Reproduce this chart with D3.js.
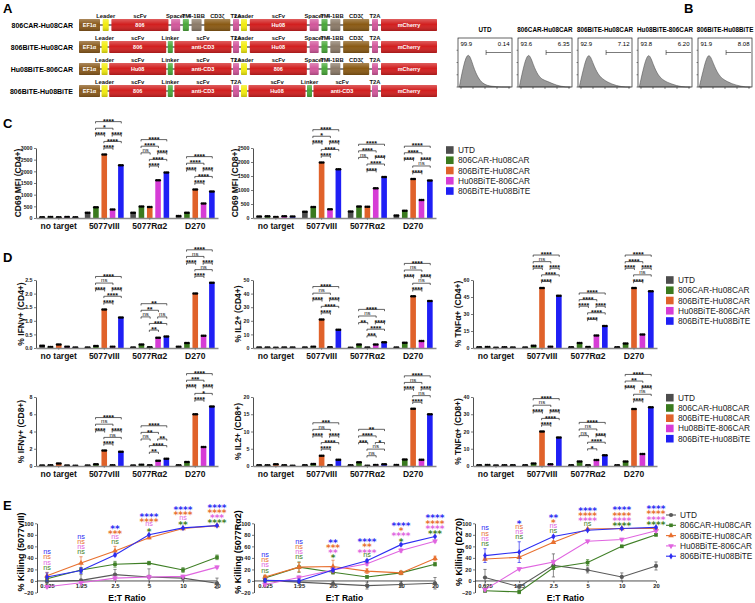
<!DOCTYPE html>
<html><head><meta charset="utf-8">
<script src="https://cdn.jsdelivr.net/npm/d3@7"></script>
<style>
body{margin:0;background:#fff}
svg{font-family:"Liberation Sans",Arial,sans-serif}
</style></head><body>
<svg id="fig" width="755" height="603"></svg>
<script>
// ---------------- DATA ----------------
const seriesNames = ["UTD","806CAR-Hu08CAR","806BiTE-Hu08CAR","Hu08BiTE-806CAR","806BiTE-Hu08BiTE"];
const barColors  = ["#4d4d4d","#3a7a1e","#e0622a","#d63cd6","#1f1ff5"];
const lineColors = ["#595959","#3f7f26","#e8702f","#e065e0","#2d2df2"];
const categories = ["no target","5077vIII","5077R\u03b12","D270"];

// Panel A constructs
const constructNames = ["806CAR-Hu08CAR","806BiTE-Hu08CAR","Hu08BiTE-806CAR","806BiTE-Hu08BiTE"];
const cassette1 = [
  [["EF1a","EF1\u03b1",""],["Leader","","Leader"],["scFv","806","scFv"],["Spacer","","Spacer"],["TM","","TM"],["BB","","4-1BB"],["CD3z","","CD3\u03b6"],["T2A","","T2A"]],
  [["EF1a","EF1\u03b1",""],["Leader","","Leader"],["scFv","806","scFv"],["Linker","","Linker"],["scFv","anti-CD3","scFv"],["T2A","","T2A"]],
  [["EF1a","EF1\u03b1",""],["Leader","","Leader"],["scFv","Hu08","scFv"],["Linker","","Linker"],["scFv","anti-CD3","scFv"],["T2A","","T2A"]],
  [["EF1a","EF1\u03b1",""],["Leader","","Leader"],["scFv","806","scFv"],["Linker","","Linker"],["scFv","anti-CD3","scFv"],["T2A","","T2A"]]
];
const cassette2 = [
  [["Leader","","Leader"],["scFv","Hu08","scFv"],["Spacer","","Spacer"],["TM","","TM"],["BB","","4-1BB"],["CD3z","","CD3\u03b6"],["T2A","","T2A"]],
  [["Leader","","Leader"],["scFv","Hu08","scFv"],["Spacer","","Spacer"],["TM","","TM"],["BB","","4-1BB"],["CD3z","","CD3\u03b6"],["T2A","","T2A"]],
  [["Leader","","Leader"],["scFv","806","scFv"],["Spacer","","Spacer"],["TM","","TM"],["BB","","4-1BB"],["CD3z","","CD3\u03b6"],["T2A","","T2A"]],
  [["Leader","",""],["scFv","Hu08","scFv"],["Linker","","Linker"],["scFv","anti-CD3","scFv"],["T2A","","T2A"]]
];
const reporter = ["mCherry","mCherry"];

// Panel B
const flowSamples = ["UTD","806CAR-Hu08CAR","806BiTE-Hu08CAR","Hu08BiTE-806CAR","806BiTE-Hu08BiTE"];
const flowNeg = ["99.9","93.6","92.9","93.8","91.9"];
const flowPos = ["0.14","6.35","7.12","6.20","8.08"];
const histUTD  = [3,70,100,55,25,10,4,2,1,0,0,0];
const histCC   = [3,65,100,60,32,20,16,10,5,2,0,0];
const histBC   = [3,60,100,62,35,22,14,8,4,1,0,0];
const histHuBC = [3,62,100,60,33,20,13,8,4,1,0,0];
const histBB   = [3,58,100,64,36,22,15,9,5,2,0,0];

// Panel C  (rows = series, cols = categories)
const cd69CD4 = [[35,230,220,90],[45,460,490,220],[30,2720,470,1220],[45,360,1620,620],[30,2260,1950,1140]];
const cd69CD8 = [[50,220,230,90],[60,390,410,260],[40,1980,400,1390],[60,310,1060,640],[50,1740,1460,1340]];
const cd69CD4Ticks = [0,500,1000,1500,2000,2500,3000];
const cd69CD8Ticks = [0,500,1000,1500,2000,2500];
// significance order per group: [CAR-vs-BiTE/BiTE, CAR-vs-Hu08BiTE, CAR-vs-806BiTE, Hu08BiTE-vs-BiTE/BiTE, 806BiTE-vs-BiTE/BiTE, 806BiTE-vs-Hu08BiTE]
const sigCD69CD4 = [null,["****","*","****","****","****","****"],["****","****","ns","****","****","****"],["****","****","****","****","****","****"]];
const sigCD69CD8 = [null,["****","*","****","****","****","****"],["****","****","ns","****","****","****"],["****","****","****","****","ns","****"]];

// Panel D
const ifnCD4 = [[0.08,0.02,0.02,0.05],[0.04,0.07,0.13,0.18],[0.13,1.42,0.03,2.0],[0.05,0.05,0.38,0.45],[0.02,1.12,0.42,2.4]];
const il2CD4 = [[0.3,0.3,0.2,0.3],[0.4,0.9,2.5,3.8],[0.2,21,0.3,38],[0.3,0.5,2.5,5.2],[0.3,13.5,4.2,34.5]];
const tnfCD4 = [[0.6,0.5,0.6,0.6],[0.8,2,4.5,4],[0.3,53,0.8,53],[0.6,1.2,11,12],[0.5,46,19.5,50]];
const ifnCD8 = [[0.06,0.05,0.05,0.1],[0.08,0.2,0.15,0.45],[0.3,1.8,0.1,6.0],[0.05,0.08,0.6,2.2],[0.03,1.65,0.85,6.9]];
const il2CD8 = [[0.2,0.2,0.2,0.3],[0.2,0.6,1.1,1.9],[0.5,3.0,0.1,16.6],[0.2,0.2,0.3,1.8],[0.1,1.8,0.5,15]];
const tnfCD8 = [[0.5,0.4,0.4,0.4],[0.6,1.5,2.6,2.6],[0.3,20,0.5,33],[0.5,1.0,3.5,7],[0.4,16.5,6.2,34]];
const ifnCD4Ticks = [0,0.5,1.0,1.5,2.0,2.5];
const il2CD4Ticks = [0,10,20,30,40,50];
const tnfCD4Ticks = [0,15,30,45,60];
const ifnCD8Ticks = [0,2,4,6,8];
const il2CD8Ticks = [0,5,10,15,20];
const tnfCD8Ticks = [0,10,20,30,40];
const sigIfnCD4 = [null,["****","ns","****","****","****","****"],["**","**","ns","ns","***","**"],["****","ns","****","****","ns","****"]];
const sigIl2CD4 = [null,["****","ns","****","****","****","****"],["****","ns","**","****","****","***"],["****","ns","****","****","ns","****"]];
const sigTnfCD4 = [null,["****","ns","****","****","****","****"],["****","****","****","****","****","****"],["****","****","****","****","ns","****"]];
const sigIfnCD8 = [null,["****","ns","****","****","ns","****"],["****","**","ns","**","****","**"],["****","***","****","****","*","****"]];
const sigIl2CD8 = [null,["***","ns","****","****","****","****"],["**","****","***","*","ns","ns"],["****","ns","****","****","ns","****"]];
const sigTnfCD8 = [null,["****","ns","****","****","****","****"],["****","ns","ns","****","****","*"],["****","**","****","****","ns","****"]];

// Panel E
const etRatios = [0.625,1.25,2.5,5,10,20];
const etLabels = ["0.625","1.25","2.5","5","10","20"];
const killTicks = [-20,0,20,40,60,80,100];
const killVIII = [[-1,1,11,7,5,-4],[4,19,29,31,19,41],[9,31,52,75,91,96],[-10,-3,5,7,8,24],[7,18,45,80,92,96]];
const errVIII  = [[3,10,9,14,4,9],[3,4,5,3,4,4],[6,11,8,2,1,1],[2,2,3,3,2,2],[7,5,2,1,1,1]];
const killRa2  = [[1,-2,-5,-8,-6,-4],[5,24,15,7,14,29],[7,24,25,17,14,39],[-6,6,19,30,53,69],[1,0,19,35,63,77]];
const errRa2   = [[4,6,5,6,5,10],[4,9,3,2,3,3],[3,8,11,4,3,4],[3,3,3,3,3,2],[3,3,3,2,2,1]];
const killD270 = [[6,-10,27,19,7,26],[-17,-19,23,32,60,80],[38,41,67,90,91,91],[-15,21,33,69,72,87],[44,50,77,88,91,93]];
const errD270  = [[14,4,20,5,7,7],[3,3,3,5,2,2],[2,2,2,1,1,1],[2,2,3,2,2,2],[12,18,2,1,1,1]];
// per ratio: [806BiTE-Hu08BiTE, 806BiTE-Hu08CAR, Hu08BiTE-806CAR, 806CAR-Hu08CAR]
const sigVIII = [["ns","ns","ns","ns"],["ns","ns","ns","ns"],["**","***","ns","ns"],["****","****","ns","*"],["****","****","ns","**"],["****","****","***","****"]];
const sigRa2  = [["ns","ns","ns","ns"],["ns","ns","ns","ns"],["**","***","**","*"],["****","**","****","ns"],["****","*","****","*"],["****","****","****","***"]];
const sigD270 = [["ns","ns","ns","ns"],["*","ns","ns","ns"],["**","*","ns","ns"],["****","****","****","ns"],["****","****","****","****"],["****","****","****","****"]];

// ---------------- DRAWING ----------------
const FONT = '"Liberation Sans", Arial, sans-serif';
const svg = d3.select("#fig");

const defs = svg.append("defs");
const grad = defs.append("linearGradient").attr("id","shade").attr("x1",0).attr("y1",0).attr("x2",0).attr("y2",1);
grad.append("stop").attr("offset","0%").attr("stop-color","#fff").attr("stop-opacity",0.28);
grad.append("stop").attr("offset","45%").attr("stop-color","#fff").attr("stop-opacity",0);
grad.append("stop").attr("offset","100%").attr("stop-color","#000").attr("stop-opacity",0.22);

[["A",3,13],["B",684,13],["C",3,128],["D",3,262],["E",3,510]].forEach(([t,x,y])=>{
  svg.append("text").attr("x",x).attr("y",y).attr("font-size",13).attr("font-weight","bold").attr("font-family",FONT).text(t);
});

// ---- Panel A ----
const elemStyle = {
  EF1a:{w:21,fill:"#8a5a1c"}, Leader:{w:6,fill:"#f2ec10"}, scFv:{w:57,fill:"#d21f1f"},
  Spacer:{w:9,fill:"#d2579b"}, TM:{w:6,fill:"#4aa83a"}, BB:{w:10,fill:"#8c7b69"},
  CD3z:{w:26,fill:"#8a5a14"}, T2A:{w:6,fill:"#d2579b"}, Linker:{w:5,fill:"#4aa83a"}, mCherry:{w:56,fill:"#d21f1f"}
};
const rowY = d3.scalePoint().domain(constructNames).range([25,91]);
function layoutCassette(elems, x0, x1){
  const total = d3.sum(elems, e=>elemStyle[e[0]].w);
  const gap = (x1-x0-total)/(elems.length-1);
  let cur = x0; const out = [];
  elems.forEach(e=>{ out.push({type:e[0],inner:e[1],label:e[2],x:cur,w:elemStyle[e[0]].w}); cur += elemStyle[e[0]].w + gap; });
  return out;
}
const gA = svg.append("g").attr("font-family",FONT);
constructNames.forEach((name,ri)=>{
  const cy = rowY(name);
  gA.append("text").attr("x",73).attr("y",cy+2.5).attr("text-anchor","end").attr("font-size",7).attr("font-weight","bold").text(name);
  gA.append("line").attr("x1",79).attr("x2",437).attr("y1",cy).attr("y2",cy).attr("stroke","#111").attr("stroke-width",1.2);
  const els = layoutCassette(cassette1[ri],79,239)
    .concat(layoutCassette(cassette2[ri],241,378))
    .concat([{type:reporter[0],inner:reporter[1],label:"",x:381,w:elemStyle.mCherry.w}]);
  els.forEach(e=>{
    gA.append("rect").attr("x",e.x).attr("y",cy-6).attr("width",e.w).attr("height",12).attr("fill",elemStyle[e.type].fill).attr("rx",0.8);
    gA.append("rect").attr("x",e.x).attr("y",cy-6).attr("width",e.w).attr("height",12).attr("fill","url(#shade)").attr("rx",0.8);
    if(e.inner) gA.append("text").attr("x",e.x+e.w/2).attr("y",cy+2).attr("text-anchor","middle").attr("font-size",5.5).attr("font-weight","bold").attr("fill","#fff").text(e.inner);
  });
  const lt = gA.append("text").attr("font-size",5.8).attr("font-weight","bold").attr("fill","#111").attr("text-anchor","middle");
  els.filter(e=>e.label).forEach(e=>{
    lt.append("tspan").attr("x",e.x+e.w/2).attr("y",cy-7.5).text(e.label);
  });
});

// ---- Panel B ----
const hists = [histUTD,histCC,histBC,histHuBC,histBB];
const bx = d3.scaleBand().domain(flowSamples).range([458,752]).paddingInner(0.1);
const gB = svg.append("g").attr("font-family",FONT);
flowSamples.forEach((s,i)=>{
  const x0 = bx(s), w = bx.bandwidth(), top = 38, bot = 87;
  gB.append("text").attr("x",x0+w/2).attr("y",32).attr("text-anchor","middle").attr("font-size",6.3).attr("font-weight","bold").text(s);
  const hx = d3.scaleLinear().domain([0,hists[i].length-1]).range([x0+1.5,x0+w-1.5]);
  const hy = d3.scaleLinear().domain([0,100]).range([bot,top+13]);
  const area = d3.area().x((d,j)=>hx(j)).y0(bot).y1(d=>hy(d)).curve(d3.curveBasis);
  gB.append("path").attr("d",area(hists[i])).attr("fill","#9a9a9a").attr("stroke","#444").attr("stroke-width",0.5);
  gB.append("rect").attr("x",x0).attr("y",top).attr("width",w).attr("height",bot-top).attr("fill","none").attr("stroke","#222").attr("stroke-width",0.7);
  const gx = x0 + w*0.52;
  gB.append("path").attr("d",`M${gx},${top+12}V${top+17}M${gx},${top+14.5}H${x0+w-1}`).attr("stroke","#222").attr("stroke-width",0.6).attr("fill","none");
  gB.append("text").attr("x",x0+2.5).attr("y",top+8).attr("font-size",6).text(flowNeg[i]);
  gB.append("text").attr("x",x0+w-2.5).attr("y",top+8).attr("text-anchor","end").attr("font-size",6).text(flowPos[i]);
  d3.range(5).forEach(k=>{
    const tx = x0 + 3 + k*(w-6)/4;
    gB.append("line").attr("x1",tx).attr("x2",tx).attr("y1",bot).attr("y2",bot+2).attr("stroke","#222").attr("stroke-width",0.5);
  });
  d3.range(4).forEach(k=>{
    const ty = bot - k*(bot-top)/4;
    gB.append("line").attr("x1",x0).attr("x2",x0-1.5).attr("y1",ty).attr("y2",ty).attr("stroke","#222").attr("stroke-width",0.5);
  });
});

// ---- Bar charts (C, D) ----
const pairs = [[1,4,5],[1,3,4],[1,2,3],[3,4,3],[2,4,2],[2,3,1]];
function styleAxis(ag, fs, bold){
  ag.attr("font-family",FONT).attr("font-size",fs);
  ag.selectAll("text").attr("font-weight",bold?"bold":"normal").attr("fill","#222");
}
function drawBarPanel(p){
  const g = svg.append("g").attr("font-family",FONT);
  const x = d3.scaleBand().domain(categories).range([p.x0,p.x1]);
  const xs = d3.scaleBand().domain(d3.range(seriesNames.length)).range([2,x.bandwidth()-2]).paddingInner(0.33).paddingOuter(0.16);
  const yMax = p.ticks[p.ticks.length-1];
  const y = d3.scaleLinear().domain([0,yMax]).range([p.yBot,p.yTop]);
  categories.forEach((c,ci)=>{
    const cx = [];
    seriesNames.forEach((s,si)=>{
      const v = p.data[si][ci];
      const bxp = x(c)+xs(si);
      cx.push(bxp+xs.bandwidth()/2);
      g.append("rect").attr("x",bxp).attr("y",y(v)).attr("width",xs.bandwidth()).attr("height",p.yBot-y(v)).attr("fill",barColors[si]);
      [-1.7,0,1.7].forEach(dx=>g.append("circle").attr("cx",bxp+xs.bandwidth()/2+dx).attr("cy",y(v)).attr("r",1.25).attr("fill","#000"));
    });
    const labs = p.sig[ci];
    if(labs){
      const maxTop = d3.min(seriesNames.map((s,si)=>y(p.data[si][ci]))) - 2.5;
      const st = g.append("text").attr("text-anchor","middle").attr("fill","#111");
      labs.forEach((lab,li)=>{
        const [a,b,lev] = pairs[li];
        const ly = maxTop - 4 - 6.6*(lev-1);
        const x1 = cx[a]-0.4, x2 = cx[b]+0.4;
        g.append("path").attr("d",`M${x1},${ly+1.8}V${ly}H${x2}V${ly+1.8}`).attr("fill","none").attr("stroke","#111").attr("stroke-width",0.65);
        const ns = lab==="ns";
        st.append("tspan").attr("x",(x1+x2)/2).attr("y",ns?ly-0.8:ly+2.2)
          .attr("font-size",ns?6:7).attr("font-weight",ns?"normal":"bold").text(lab);
      });
    }
  });
  const ya = d3.axisLeft(y).tickValues(p.ticks).tickSize(2).tickSizeOuter(0).tickPadding(1.5).tickFormat(p.fmt);
  const ag = g.append("g").attr("transform",`translate(${p.x0},0)`).call(ya);
  styleAxis(ag,5.3,true);
  ag.select(".domain").attr("stroke","#222").attr("stroke-width",0.8);
  ag.selectAll(".tick line").attr("stroke","#222").attr("stroke-width",0.6);
  const xa = d3.axisBottom(x).tickSize(2).tickSizeOuter(0).tickPadding(3);
  const xg = g.append("g").attr("transform",`translate(0,${p.yBot})`).call(xa);
  styleAxis(xg,8.5,true);
  xg.selectAll("text").attr("fill","#111");
  xg.select(".domain").attr("stroke","#8a8a8a").attr("stroke-width",1.3);
  xg.selectAll(".tick line").attr("stroke","#666").attr("stroke-width",0.6);
  g.append("text").attr("transform",`translate(${p.x0-p.toff},${(p.yTop+p.yBot)/2}) rotate(-90)`)
    .attr("text-anchor","middle").attr("font-size",8.5).attr("font-weight","bold").attr("fill","#111").text(p.title);
}
const fInt = d3.format("d"), f1 = d3.format(".1f");
const barPanels = [
  {data:cd69CD4,sig:sigCD69CD4,ticks:cd69CD4Ticks,fmt:fInt,title:"CD69 MFI (CD4+)",x0:36,x1:218,yTop:148,yBot:218,toff:15.5},
  {data:cd69CD8,sig:sigCD69CD8,ticks:cd69CD8Ticks,fmt:fInt,title:"CD69 MFI (CD8+)",x0:253,x1:436,yTop:148,yBot:218,toff:15.5},
  {data:ifnCD4,sig:sigIfnCD4,ticks:ifnCD4Ticks,fmt:f1,title:"% IFN\u03b3+ (CD4+)",x0:36,x1:218,yTop:280,yBot:348,toff:12},
  {data:il2CD4,sig:sigIl2CD4,ticks:il2CD4Ticks,fmt:fInt,title:"% IL2+ (CD4+)",x0:253,x1:436,yTop:280,yBot:348,toff:12},
  {data:tnfCD4,sig:sigTnfCD4,ticks:tnfCD4Ticks,fmt:fInt,title:"% TNF\u03b1+ (CD4+)",x0:473,x1:657,yTop:280,yBot:348,toff:12},
  {data:ifnCD8,sig:sigIfnCD8,ticks:ifnCD8Ticks,fmt:fInt,title:"% IFN\u03b3+ (CD8+)",x0:36,x1:218,yTop:397,yBot:466,toff:12},
  {data:il2CD8,sig:sigIl2CD8,ticks:il2CD8Ticks,fmt:fInt,title:"% IL2+ (CD8+)",x0:253,x1:436,yTop:397,yBot:466,toff:12},
  {data:tnfCD8,sig:sigTnfCD8,ticks:tnfCD8Ticks,fmt:fInt,title:"% TNF\u03b1+ (CD8+)",x0:473,x1:657,yTop:397,yBot:466,toff:12}
];
barPanels.forEach(drawBarPanel);

function squareLegend(x, y0){
  const ly = d3.scalePoint().domain(seriesNames).range([y0, y0+41]);
  const g = svg.append("g").attr("font-family",FONT);
  seriesNames.forEach((s,i)=>{
    g.append("rect").attr("x",x).attr("y",ly(s)-3.8).attr("width",7.6).attr("height",7.6).attr("fill",barColors[i]);
    g.append("text").attr("x",x+12).attr("y",ly(s)+3).attr("font-size",8.3).attr("fill","#222").text(s);
  });
}
squareLegend(446,150);
squareLegend(666,280);
squareLegend(666,397.7);

// ---- Panel E ----
const symTypes = [d3.symbolCircle,d3.symbolSquare,d3.symbolTriangle,d3.symbolTriangle,d3.symbolDiamond];
const symRot = [0,0,0,180,0];
const symSize = [14,13,14,14,12];
function drawKill(p){
  const g = svg.append("g").attr("font-family",FONT);
  const x = d3.scaleLog().domain([etRatios[0],etRatios[etRatios.length-1]]).range([p.px0,p.px1]);
  const y = d3.scaleLinear().domain([killTicks[0],killTicks[killTicks.length-1]]).range([592.5,523.3]);
  const ya = d3.axisLeft(y).tickValues(killTicks).tickSize(2).tickSizeOuter(0).tickPadding(1.5);
  const ag = g.append("g").attr("transform",`translate(${p.ax},0)`).call(ya);
  styleAxis(ag,5.6,true);
  ag.select(".domain").attr("stroke","#222").attr("stroke-width",0.8);
  ag.selectAll(".tick line").attr("stroke","#222").attr("stroke-width",0.6);
  const xa = d3.axisBottom(x).tickValues(etRatios).tickFormat((d,i)=>etLabels[i]).tickSize(2).tickSizeOuter(0).tickPadding(1.2);
  const xg = g.append("g").attr("transform",`translate(0,${y(0)})`).call(xa);
  styleAxis(xg,5.8,true);
  xg.select(".domain").remove();
  xg.selectAll(".tick line").attr("stroke","#222").attr("stroke-width",0.6);
  g.append("line").attr("x1",p.ax).attr("x2",p.px1).attr("y1",y(0)).attr("y2",y(0)).attr("stroke","#222").attr("stroke-width",0.8);
  g.append("text").attr("x",(p.ax+p.px1)/2).attr("y",600.5).attr("text-anchor","middle").attr("font-size",8.5).attr("font-weight","bold").text("E:T Ratio");
  g.append("text").attr("transform",`translate(${p.ax-13.5},552) rotate(-90)`).attr("text-anchor","middle")
    .attr("font-size",9).attr("font-weight","bold").text(p.title);
  seriesNames.forEach((s,si)=>{
    const vals = p.data[si], errs = p.err[si];
    vals.forEach((v,k)=>{
      const px = x(etRatios[k]);
      g.append("path").attr("d",`M${px},${y(v-errs[k])}V${y(v+errs[k])}M${px-1.6},${y(v+errs[k])}H${px+1.6}M${px-1.6},${y(v-errs[k])}H${px+1.6}`)
        .attr("stroke",lineColors[si]).attr("stroke-width",0.7).attr("fill","none");
    });
    const line = d3.line().x((d,k)=>x(etRatios[k])).y(d=>y(d));
    g.append("path").attr("d",line(vals)).attr("fill","none").attr("stroke",lineColors[si]).attr("stroke-width",1.1);
    vals.forEach((v,k)=>{
      g.append("path").attr("d",d3.symbol().type(symTypes[si]).size(symSize[si])())
        .attr("transform",`translate(${x(etRatios[k])},${y(v)}) rotate(${symRot[si]})`).attr("fill",lineColors[si]);
    });
  });
  const sigColors = [lineColors[4],lineColors[2],lineColors[3],lineColors[1]];
  etRatios.forEach((r,k)=>{
    const top = d3.max(seriesNames.map((s,si)=>p.data[si][k]+p.err[si][k]));
    const base = y(top) - 4.5;
    const st = g.append("text").attr("text-anchor","middle");
    p.sig[k].forEach((lab,j)=>{
      const cyc = base - (3-j)*5.2;
      const ns = lab==="ns";
      st.append("tspan").attr("x",x(r)).attr("y",ns?cyc+1.9:cyc+5.6)
        .attr("font-family",ns?FONT:"DejaVu Sans").attr("font-size",ns?7.3:9).attr("font-weight",ns?"normal":"bold")
        .attr("fill",sigColors[j]).text(lab);
    });
  });
}
drawKill({data:killVIII,err:errVIII,sig:sigVIII,title:"% Killing (5077vIII)",ax:37,px0:47,px1:217});
drawKill({data:killRa2,err:errRa2,sig:sigRa2,title:"% Killing (5077R\u03b12)",ax:254,px0:265,px1:435});
drawKill({data:killD270,err:errD270,sig:sigD270,title:"% Killing (D270)",ax:475,px0:485,px1:656});

(function(){
  const ly = d3.scalePoint().domain(seriesNames).range([515,556.2]);
  const g = svg.append("g").attr("font-family",FONT);
  seriesNames.forEach((s,i)=>{
    g.append("line").attr("x1",666).attr("x2",676).attr("y1",ly(s)).attr("y2",ly(s)).attr("stroke",lineColors[i]).attr("stroke-width",1.1);
    g.append("path").attr("d",d3.symbol().type(symTypes[i]).size(symSize[i])()).attr("transform",`translate(671,${ly(s)}) rotate(${symRot[i]})`).attr("fill",lineColors[i]);
    g.append("text").attr("x",680).attr("y",ly(s)+3).attr("font-size",8.3).attr("fill","#222").text(s);
  });
})();
</script>
</body></html>
